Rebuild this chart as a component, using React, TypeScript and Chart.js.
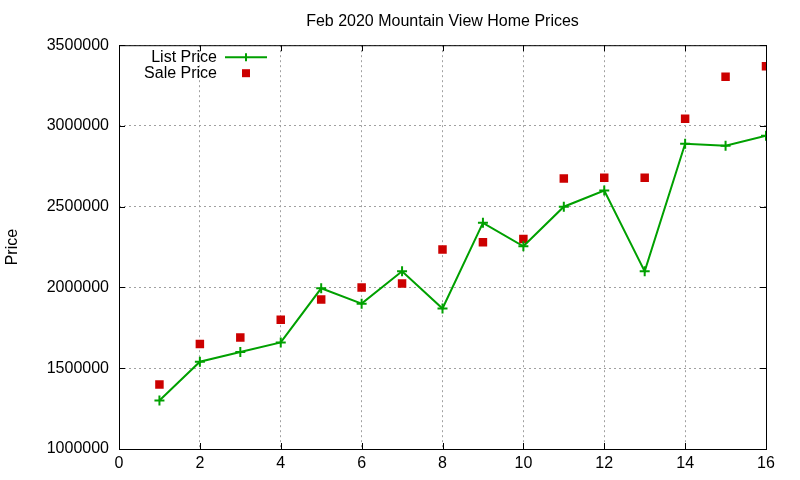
import React, { useEffect, useRef } from "react";
import { Chart, registerables } from "chart.js";

Chart.register(...registerables);

const days = [1, 2, 3, 4, 5, 6, 7, 8, 9, 10, 11, 12, 13, 14, 15, 16];
const listPrice = [
  1300000, 1540000, 1600000, 1660000, 1995000, 1900000, 2100000, 1870000,
  2400000, 2255000, 2500000, 2600000, 2100000, 2890000, 2878000, 2940000,
];
const salePrice = [
  1400000, 1650000, 1690000, 1800000, 1925000, 2000000, 2025000, 2235000,
  2280000, 2300000, 2675000, 2680000, 2680000, 3045000, 3305000, 3370000,
];
const titleText = "Feb 2020 Mountain View Home Prices";
const yLabel = "Price";
const legendLabels = ["List Price", "Sale Price"];

const GREEN = "#00a000";
const RED = "#cc0000";
const FONT = "'Liberation Sans', Arial, sans-serif";

// gnuplot-ish frame: full border, inward ticks on every side, legend inside
const framePlugin = {
  id: "frame",
  afterDraw(chart: any) {
    const { ctx, chartArea: a, scales } = chart;
    ctx.save();
    ctx.strokeStyle = "#000";
    ctx.lineWidth = 1;
    ctx.strokeRect(a.left + 0.5, a.top + 0.5, a.right - a.left, a.bottom - a.top);
    ctx.beginPath();
    scales.x.ticks.forEach((t: any) => {
      const px = Math.round(scales.x.getPixelForValue(t.value)) + 0.5;
      ctx.moveTo(px, a.bottom);
      ctx.lineTo(px, a.bottom - 6);
      ctx.moveTo(px, a.top);
      ctx.lineTo(px, a.top + 6);
    });
    scales.y.ticks.forEach((t: any) => {
      const py = Math.round(scales.y.getPixelForValue(t.value)) + 0.5;
      ctx.moveTo(a.left, py);
      ctx.lineTo(a.left + 6, py);
      ctx.moveTo(a.right, py);
      ctx.lineTo(a.right - 6, py);
    });
    ctx.stroke();

    // legend
    ctx.font = `16px ${FONT}`;
    ctx.fillStyle = "#000";
    ctx.textAlign = "right";
    ctx.textBaseline = "middle";
    const tx = a.left + 98;
    const y1 = a.top + 12;
    const y2 = a.top + 28;
    ctx.fillText(legendLabels[0], tx, y1);
    ctx.fillText(legendLabels[1], tx, y2);
    ctx.strokeStyle = GREEN;
    ctx.lineWidth = 2;
    ctx.beginPath();
    ctx.moveTo(a.left + 106, y1);
    ctx.lineTo(a.left + 148, y1);
    ctx.moveTo(a.left + 127, y1 - 4);
    ctx.lineTo(a.left + 127, y1 + 4);
    ctx.moveTo(a.left + 123, y1);
    ctx.lineTo(a.left + 131, y1);
    ctx.stroke();
    ctx.fillStyle = RED;
    ctx.fillRect(a.left + 123, y2 - 4, 8, 8);
    ctx.restore();
  },
};

const App: React.FC = () => {
  const chartRef = useRef<HTMLCanvasElement | null>(null);
  const chartInstance = useRef<Chart | null>(null);

  useEffect(() => {
    document.body.style.margin = "0";
    const ctx = chartRef.current?.getContext("2d");
    if (!ctx) return;
    if (chartInstance.current) chartInstance.current.destroy();

    chartInstance.current = new Chart(ctx, {
      type: "line",
      data: {
        labels: days,
        datasets: [
          {
            label: legendLabels[0],
            data: days.map((d, i) => ({ x: d, y: listPrice[i] })),
            borderColor: GREEN,
            backgroundColor: GREEN,
            borderWidth: 2,
            pointStyle: "cross",
            pointRadius: 5,
            pointBorderWidth: 2,
            tension: 0,
          },
          {
            label: legendLabels[1],
            data: days.map((d, i) => ({ x: d, y: salePrice[i] })),
            showLine: false,
            borderColor: RED,
            backgroundColor: RED,
            pointStyle: "rect",
            pointRadius: 6,
            pointBorderWidth: 0,
          },
        ],
      },
      options: {
        responsive: false,
        animation: false,
        layout: { padding: { top: 0, right: 34, bottom: 0, left: 0 } },
        plugins: {
          legend: { display: false },
          tooltip: { enabled: false },
          title: {
            display: true,
            text: titleText,
            fullSize: false,
            color: "#000",
            font: { family: FONT, size: 16, weight: "normal" },
            padding: { top: 12, bottom: 14 },
          },
        },
        scales: {
          x: {
            type: "linear",
            min: 0,
            max: 16,
            ticks: {
              stepSize: 2,
              color: "#000",
              padding: 5,
              font: { family: FONT, size: 16 },
            },
            grid: { color: "#a0a0a0", drawTicks: false, lineWidth: 1 },
            border: { display: false, dash: [2, 3] },
            afterFit: (scale: any) => {
              scale.height = 31;
            },
          },
          y: {
            min: 1000000,
            max: 3500000,
            ticks: {
              stepSize: 500000,
              color: "#000",
              padding: 10,
              font: { family: FONT, size: 16 },
              callback: (v: any) => String(v),
            },
            grid: { color: "#a0a0a0", drawTicks: false, lineWidth: 1 },
            border: { display: false, dash: [2, 3] },
            title: {
              display: true,
              text: yLabel,
              color: "#000",
              font: { family: FONT, size: 16 },
              padding: { top: 3, bottom: 0 },
            },
            afterFit: (scale: any) => {
              scale.width = 119;
            },
          },
        },
      },
      plugins: [framePlugin],
    });

    return () => {
      if (chartInstance.current) {
        chartInstance.current.destroy();
        chartInstance.current = null;
      }
    };
  }, []);

  return (
    <div style={{ width: 800, height: 480, background: "#fff" }}>
      <canvas ref={chartRef} width={800} height={480}></canvas>
    </div>
  );
};

export default App;
